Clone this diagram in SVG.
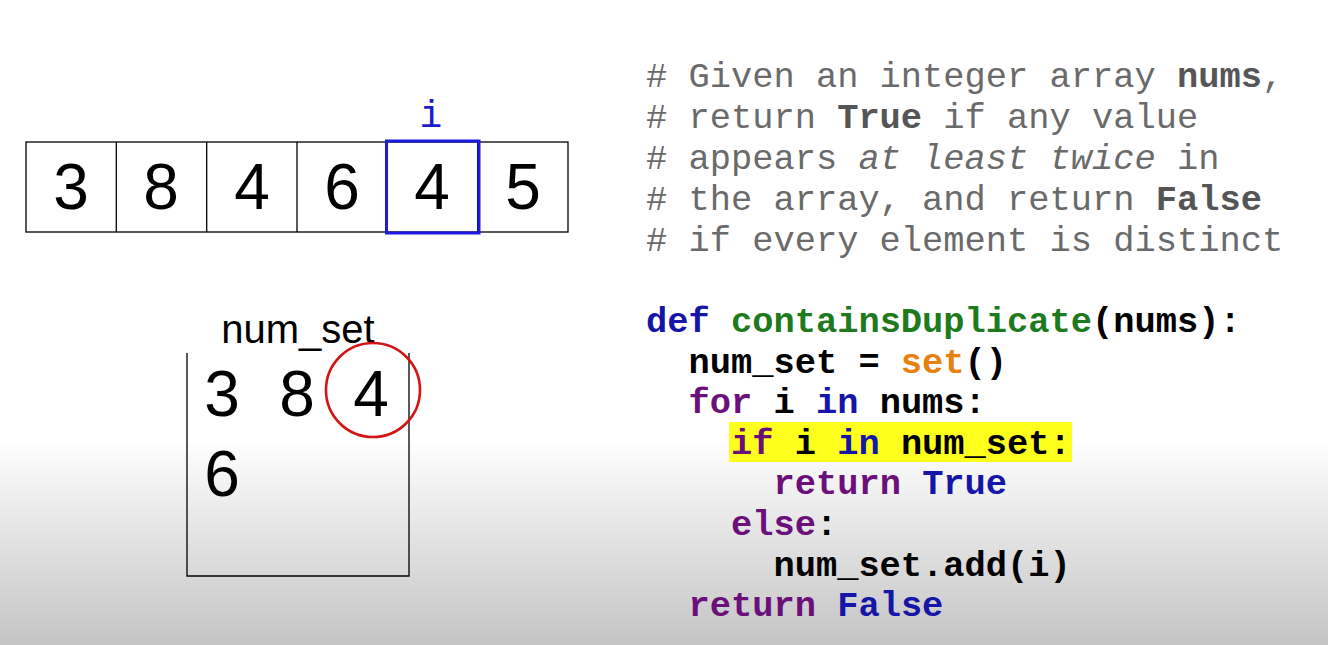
<svg xmlns="http://www.w3.org/2000/svg" width="1328" height="645" viewBox="0 0 1328 645">
<defs>
<linearGradient id="bg" x1="0" y1="0" x2="0" y2="1">
<stop offset="0" stop-color="#ffffff"/>
<stop offset="0.68" stop-color="#ffffff"/>
<stop offset="1" stop-color="#c4c4c4"/>
</linearGradient>
<style>
.cell{fill:none;stroke:#000;stroke-width:1.3}
.dig{font-family:"Liberation Sans",Arial,sans-serif;font-size:64px;fill:#000;text-anchor:middle}
.lbl{font-family:"Liberation Sans",Arial,sans-serif;font-size:40px;fill:#000;text-anchor:middle}
.code{font-family:"Liberation Mono","Courier New",monospace;font-size:35.4px;font-weight:bold;fill:#000;white-space:pre}
.cm{font-family:"Liberation Mono","Courier New",monospace;font-size:35.4px;fill:#6a6a6a;white-space:pre}
.b{font-weight:bold;fill:#555}
.it{font-style:italic}
.kw{fill:#6b0f7a}
.bl{fill:#1515a8}
.gr{fill:#1d7a1d}
.or{fill:#e8800e}
</style>
</defs>
<rect x="0" y="0" width="1328" height="645" fill="url(#bg)"/>

<g id="array">
<rect class="cell" x="26" y="142" width="542" height="90"/>
<line class="cell" x1="116.3" y1="142" x2="116.3" y2="232"/>
<line class="cell" x1="206.7" y1="142" x2="206.7" y2="232"/>
<line class="cell" x1="297" y1="142" x2="297" y2="232"/>
<line class="cell" x1="387.3" y1="142" x2="387.3" y2="232"/>
<line class="cell" x1="477.7" y1="142" x2="477.7" y2="232"/>
<rect x="386.5" y="141" width="92.5" height="92" fill="none" stroke="#1a1ae0" stroke-width="3"/>
<text class="dig" x="71" y="209">3</text>
<text class="dig" x="161" y="209">8</text>
<text class="dig" x="252" y="209">4</text>
<text class="dig" x="342" y="209">6</text>
<text class="dig" x="432" y="209">4</text>
<text class="dig" x="523" y="209">5</text>
</g>

<g id="pointer">
<text x="431" y="127" text-anchor="middle" style="font-family:'Liberation Mono','Courier New',monospace;font-size:38px;fill:#1a1ad0">i</text>
</g>

<g id="numset">
<text class="lbl" x="298" y="343">num_set</text>
<polyline points="187,353 187,576 409,576 409,353" fill="none" stroke="#000" stroke-width="1.3"/>
<text class="dig" x="222" y="416">3</text>
<text class="dig" x="297" y="416">8</text>
<text class="dig" x="371" y="416">4</text>
<text class="dig" x="222" y="496">6</text>
<circle cx="373" cy="390" r="47" fill="none" stroke="#d41414" stroke-width="2.6"/>
</g>

<g id="comment">
<text class="cm" x="646" y="87"># Given an integer array <tspan class="b">nums</tspan>,</text>
<text class="cm" x="646" y="128"># return <tspan class="b">True</tspan> if any value</text>
<text class="cm" x="646" y="169"># appears <tspan class="it">at least twice</tspan> in</text>
<text class="cm" x="646" y="210"># the array, and return <tspan class="b">False</tspan></text>
<text class="cm" x="646" y="251"># if every element is distinct</text>
</g>

<g id="code">
<rect x="729" y="422" width="343" height="40" fill="#ffff1e"/>
<text class="code" x="646" y="332"><tspan class="bl">def</tspan> <tspan class="gr">containsDuplicate</tspan>(nums):</text>
<text class="code" x="646" y="372.5">  num_set = <tspan class="or">set</tspan>()</text>
<text class="code" x="646" y="413">  <tspan class="kw">for</tspan> i <tspan class="bl">in</tspan> nums:</text>
<text class="code" x="646" y="454">    <tspan class="kw">if</tspan> i <tspan class="bl">in</tspan> num_set:</text>
<text class="code" x="646" y="494">      <tspan class="kw">return</tspan> <tspan class="bl">True</tspan></text>
<text class="code" x="646" y="535">    <tspan class="kw">else</tspan>:</text>
<text class="code" x="646" y="576">      num_set.add(i)</text>
<text class="code" x="646" y="616">  <tspan class="kw">return</tspan> <tspan class="bl">False</tspan></text>
</g>
</svg>
